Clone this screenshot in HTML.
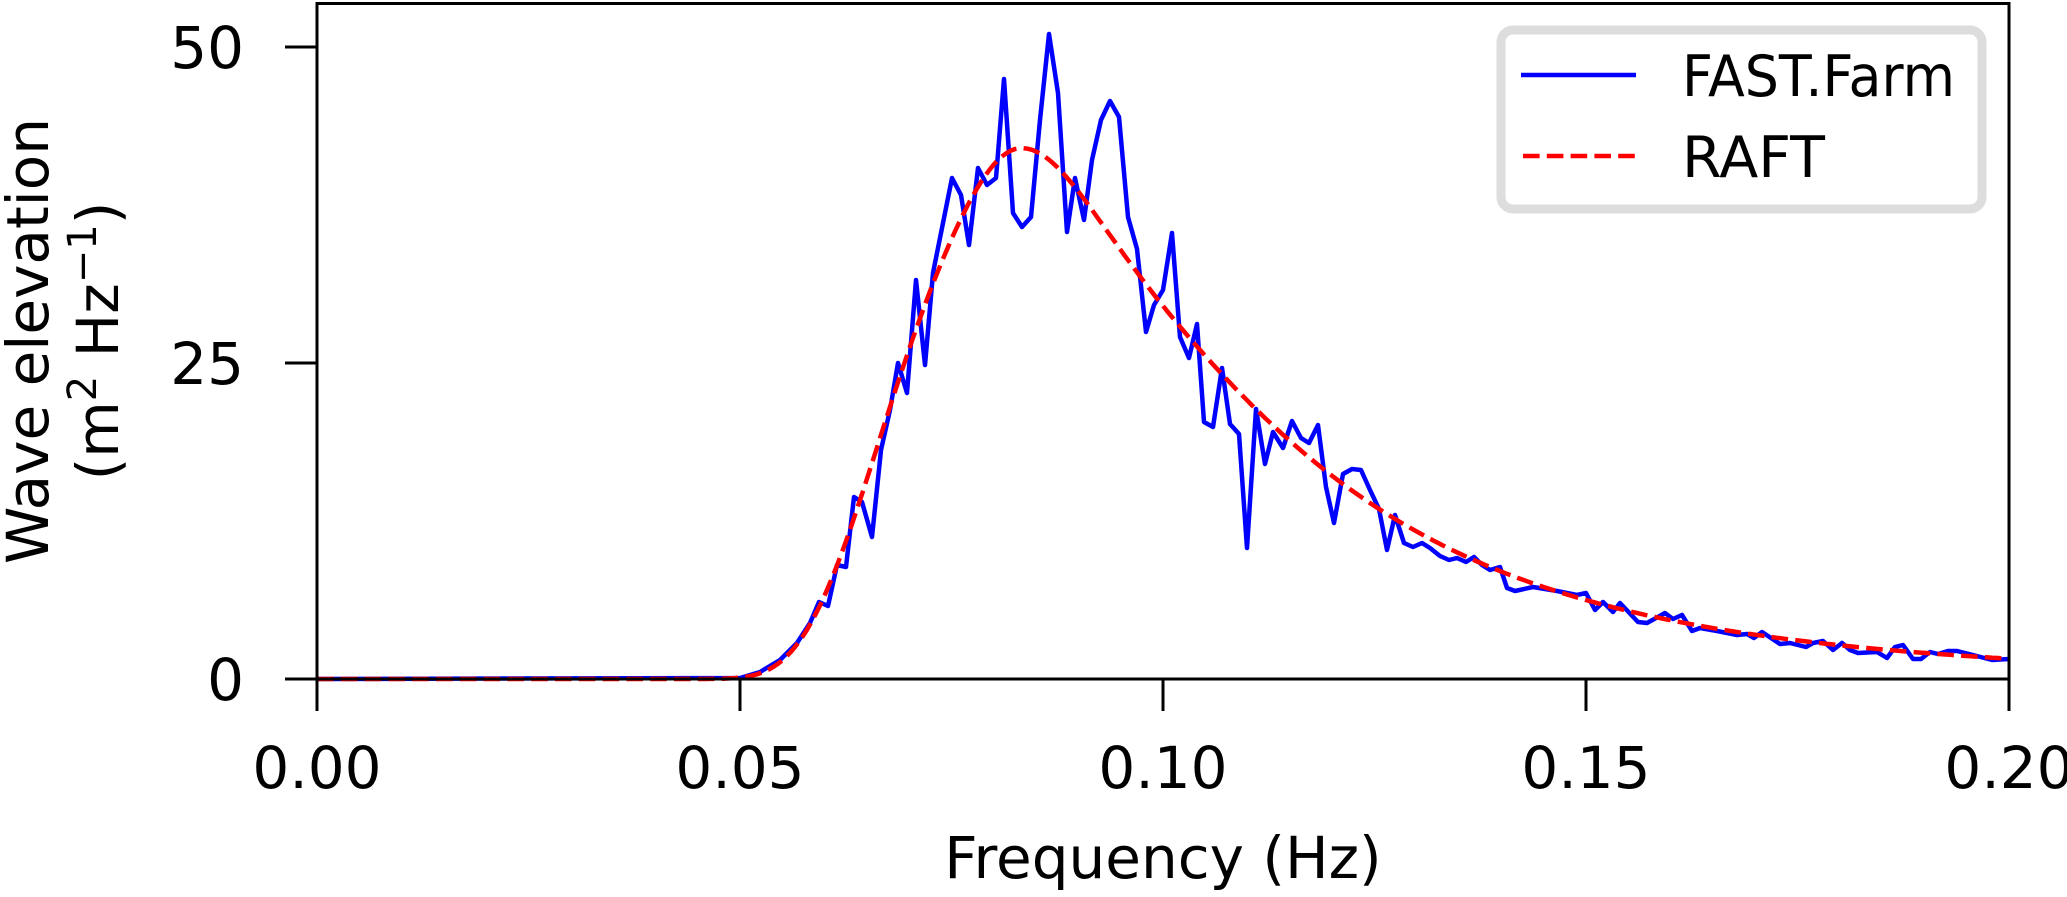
<!DOCTYPE html>
<html><head><meta charset="utf-8"><style>
html,body{margin:0;padding:0;background:#fff;}
svg{display:block;font-family:"DejaVu Sans","Liberation Sans",sans-serif;}
</style></head><body>
<svg id="s" width="2067" height="897" viewBox="0 0 2067 897" xmlns="http://www.w3.org/2000/svg">
<rect width="2067" height="897" fill="#fff"/>
<polyline fill="none" stroke="#0000ff" stroke-width="4.5" stroke-linejoin="round" points="
317,679 740,678 760,672 780,660 797,643 810,623 819,602 828,606 837,565 846,567 854,497 862,502 872,537 881,450 890,410 898,363 907,393 916,280 925,365 933,273 952,178 961,195 969,245 978,168 987,185 996,178 1004,79 1013,213 1022,227 1031,217 1040,120 1049,34 1058,93 1067,232 1075,178 1084,220 1092,160 1101,120 1110,101 1119,117 1128,217 1137,249 1146,332 1154,305 1163,290 1172,233 1180,337 1189,358 1197,324 1204,422 1213,427 1222,368 1230,424 1239,434 1247,548 1256,409 1265,464 1273,432 1283,448 1292,421 1301,438 1309,443 1318,425 1326,487 1334,523 1343,474 1352,469 1361,470 1370,490 1379,509 1387,550 1395,515 1404,543 1413,547 1422,543 1430,548 1440,556 1449,560 1457,558 1466,562 1474,557 1482,565 1490,570 1500,567 1507,588 1515,591 1533,587 1557,591 1577,595 1586,593 1595,610 1603,602 1613,612 1620,603 1638,622 1647,623 1665,613 1673,619 1682,615 1692,631 1700,628 1717,631 1737,635 1747,634 1754,638 1762,632 1780,644 1790,643 1806,647 1813,643 1823,641 1833,650 1842,643 1850,650 1858,653 1877,652 1887,658 1895,647 1903,645 1913,659 1921,659 1930,652 1938,654 1948,651 1957,651 1973,655 1992,660 2009,659"/>
<path id="red" fill="none" stroke="#ff0000" stroke-width="4.5" stroke-dasharray="16.6,7.2" d=""/>
<rect x="317" y="3.5" width="1692" height="675.5" fill="none" stroke="#000" stroke-width="3"/>
<g stroke="#000" stroke-width="3">
<line x1="317" y1="679" x2="317" y2="711"/>
<line x1="740" y1="679" x2="740" y2="711"/>
<line x1="1163" y1="679" x2="1163" y2="711"/>
<line x1="1586" y1="679" x2="1586" y2="711"/>
<line x1="2009" y1="679" x2="2009" y2="711"/>
<line x1="285" y1="679" x2="317" y2="679"/>
<line x1="285" y1="363" x2="317" y2="363"/>
<line x1="285" y1="47" x2="317" y2="47"/>
</g>
<g font-size="58" fill="#000" text-anchor="middle">
<text x="317" y="788">0.00</text>
<text x="740" y="788">0.05</text>
<text x="1163" y="788">0.10</text>
<text x="1586" y="788">0.15</text>
<text x="2009" y="788">0.20</text>
</g>
<g font-size="58" fill="#000" text-anchor="end">
<text x="244" y="700">0</text>
<text x="244" y="384">25</text>
<text x="244" y="68">50</text>
</g>
<text x="1163" y="878" font-size="58" text-anchor="middle">Frequency (Hz)</text>
<g transform="translate(48,341) rotate(-90)" font-size="58" text-anchor="middle">
<text x="0" y="0">Wave elevation</text>
<text x="0" y="70">(m<tspan font-size="40" dy="-22">2</tspan><tspan dy="22"> Hz</tspan><tspan font-size="40" dy="-22">−1</tspan><tspan dy="22">)</tspan></text>
</g>
<rect x="1501" y="30" width="481" height="179" rx="12" fill="#fff" stroke="#dddddd" stroke-width="9"/>
<line x1="1521" y1="75" x2="1636" y2="75" stroke="#0000ff" stroke-width="4.5"/>
<line x1="1523" y1="156" x2="1636" y2="156" stroke="#ff0000" stroke-width="4.5" stroke-dasharray="16.6,7.2"/>
<text x="1682" y="96" font-size="57" textLength="273" lengthAdjust="spacingAndGlyphs">FAST.Farm</text>
<text x="1682" y="177" font-size="57">RAFT</text>
</svg>
<script>
(function(){
 var fp=0.0833,g=1.1,peak=0;
 function S(f){ if(f<=0.02) return 0; var s=f<=fp?0.07:0.09;
  var r=Math.exp(-Math.pow(f-fp,2)/(2*s*s*fp*fp));
  return Math.pow(f,-5)*Math.exp(-1.25*Math.pow(fp/f,4))*Math.pow(g,r);}
 peak=S(fp); var d="";
 for(var i=0;i<=400;i++){var f=0.2*i/400;var v=42*S(f)/peak;
  var x=317+f/0.2*1692,y=679-v*12.64;
  d+=(i?"L":"M")+x.toFixed(1)+","+y.toFixed(1);}
 document.getElementById("red").setAttribute("d",d);
})();
</script>
</body></html>
